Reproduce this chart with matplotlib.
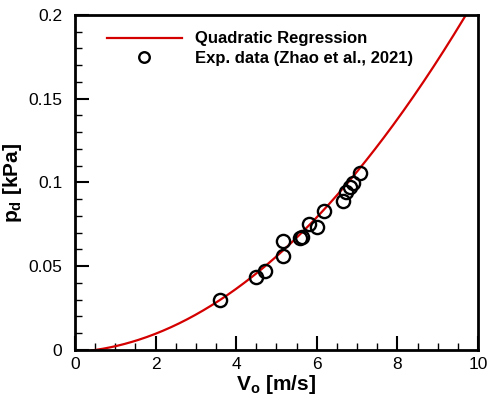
import numpy as np
import matplotlib
matplotlib.use('Agg')
import matplotlib.pyplot as plt
from matplotlib.ticker import MultipleLocator, FormatStrFormatter

plt.rcParams['font.family'] = ['Liberation Sans', 'DejaVu Sans']
plt.rcParams['mathtext.fontset'] = 'custom'
plt.rcParams['mathtext.rm'] = 'Liberation Sans'
plt.rcParams['mathtext.bf'] = 'Liberation Sans:bold'

# experimental data (Zhao et al., 2021)
v_exp = [3.60, 4.48, 4.71, 5.15, 5.15, 5.58, 5.64, 5.81, 6.00, 6.19,
         6.66, 6.72, 6.82, 6.91, 7.07]
p_exp = [0.0299, 0.0438, 0.0474, 0.0561, 0.0653, 0.0667, 0.0673, 0.0752,
         0.0732, 0.0832, 0.0890, 0.0941, 0.0975, 0.0999, 0.1059]

# quadratic regression coefficients p = a*V^2 + b*V + c
fit_a = 0.001983
fit_b = 0.001515
fit_c = -0.00125

v_fit = np.linspace(0.0, 10.0, 400)
p_fit = fit_a * v_fit**2 + fit_b * v_fit + fit_c

fig = plt.figure(figsize=(4.98, 4.01), dpi=100)
ax = fig.add_axes([0.1506, 0.1272, 0.8092, 0.8354])

ax.plot(v_fit, p_fit, color='#d40000', lw=1.6, label='Quadratic Regression')
ax.plot(v_exp, p_exp, 'o', mfc='none', mec='black', mew=1.7, ms=9.5,
        label='Exp. data (Zhao et al., 2021)')

ax.set_xlim(0, 10)
ax.set_ylim(0, 0.2)
ax.xaxis.set_major_locator(MultipleLocator(2))
ax.xaxis.set_minor_locator(MultipleLocator(0.5))
ax.yaxis.set_major_locator(MultipleLocator(0.05))
ax.yaxis.set_minor_locator(MultipleLocator(0.01))
ax.xaxis.set_major_formatter(FormatStrFormatter('%g'))
ax.yaxis.set_major_formatter(FormatStrFormatter('%g'))

ax.tick_params(which='both', direction='in', top=False, right=False,
               labelsize=12.5)
ax.tick_params(which='major', length=10, width=1.5)
ax.tick_params(axis='y', which='major', pad=9)
ax.tick_params(axis='x', which='major', pad=5)
ax.tick_params(which='minor', length=5, width=1.0)
for s in ax.spines.values():
    s.set_linewidth(2)

ax.set_xlabel(r'$\mathbf{V_o}$ [m/s]', fontsize=15, fontweight='bold',
              labelpad=1)
ax.set_ylabel(r'$\mathbf{p_d}$ [kPa]', fontsize=15, fontweight='bold',
              labelpad=3)

leg = ax.legend(loc='upper left', bbox_to_anchor=(0.041, 0.996), frameon=False,
                prop={'weight': 'bold', 'size': 12}, handlelength=4.5,
                handletextpad=0.78, labelspacing=0.25, markerscale=0.8)

fig.savefig('out.png', dpi=100)
